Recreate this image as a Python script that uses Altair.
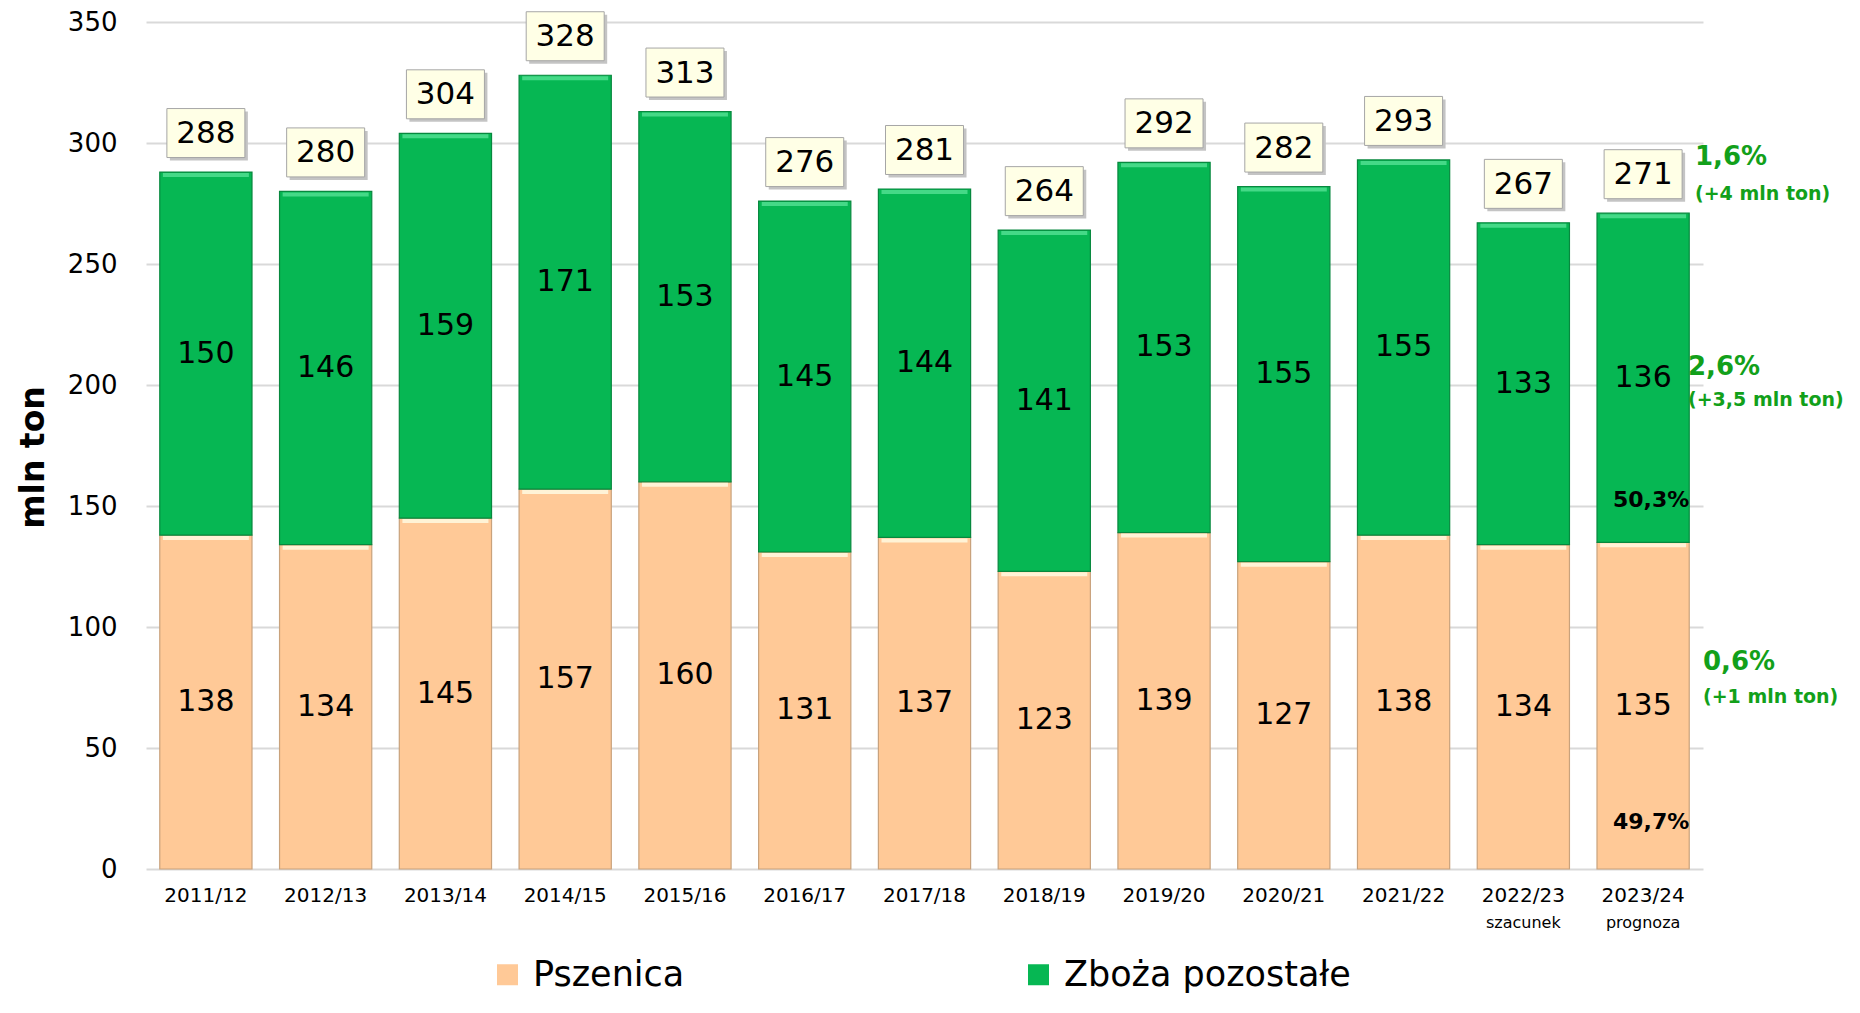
import altair as alt
import pandas as pd

# ---------------- data ----------------
years = ["2011/12", "2012/13", "2013/14", "2014/15", "2015/16", "2016/17", "2017/18",
         "2018/19", "2019/20", "2020/21", "2021/22", "2022/23", "2023/24"]
wheat = [138, 134, 145, 157, 160, 131, 137, 123, 139, 127, 138, 134, 135]
other = [150, 146, 159, 171, 153, 145, 144, 141, 153, 155, 155, 133, 136]
totals = [288, 280, 304, 328, 313, 276, 281, 264, 292, 282, 293, 267, 271]
notes = ["", "", "", "", "", "", "", "", "", "", "", "szacunek", "prognoza"]
series_names = ["Pszenica", "Zboża pozostałe"]
share_labels = ["49,7%", "50,3%"]
change_pct = ["1,6%", "2,6%", "0,6%"]
change_abs = ["(+4 mln ton)", "(+3,5 mln ton)", "(+1 mln ton)"]
y_ticks = [0, 50, 100, 150, 200, 250, 300, 350]

n = len(years)
long = pd.DataFrame({
    "year": years * 2,
    "series": [series_names[0]] * n + [series_names[1]] * n,
    "value": wheat + other,
    "ord": [0] * n + [1] * n,
})
tot = pd.DataFrame({"year": years, "total": totals, "note": notes})
last = pd.DataFrame({"year": [years[-1]], "wheat": [wheat[-1]], "zero": [0],
                     "s_low": [share_labels[0]], "s_high": [share_labels[1]]})

# ---------------- styling ----------------
W, H = 1557, 847
FONT = "DejaVu Sans"
WHEAT = "#FFC997"
GREEN = "#06B753"
ANN = "#12A01A"

xs = alt.Scale(paddingInner=0.23, paddingOuter=0.115)
ys = alt.Scale(domain=[0, 350], nice=False, zero=True)

x_axis = alt.Axis(labelFontSize=20, labelFont=FONT, labelColor="black",
                  labelPadding=16, ticks=False, domain=False, labelAngle=0, grid=False)
y_axis = alt.Axis(values=y_ticks, titleFontSize=33, titleFont=FONT,
                  titleFontWeight="bold", titleColor="black", titleAngle=-90,
                  titleX=-113, titleY=435, titleAlign="center",
                  titleBaseline="middle", labelFontSize=26, labelFont=FONT,
                  labelColor="black", labelPadding=29, ticks=False,
                  domain=False, grid=True, gridColor="#D9D9D9", gridWidth=2)


def X():
    return alt.X("year:N", sort=years, scale=xs, title=None, axis=x_axis)


def Y(field, **kw):
    return alt.Y(field, scale=ys, title="mln ton", axis=y_axis, **kw)


bars = alt.Chart(long).mark_bar(strokeWidth=1.2, opacity=1).encode(
    x=X(),
    y=Y("value:Q", stack="zero"),
    color=alt.Color("series:N", scale=alt.Scale(domain=series_names, range=[WHEAT, GREEN]),
                    legend=alt.Legend(title=None, orient="none", legendX=344, legendY=935,
                                      direction="horizontal", symbolType="square",
                                      symbolSize=441, symbolStrokeWidth=0,
                                      labelFontSize=35, labelFont=FONT,
                                      labelColor="black", labelLimit=600,
                                      labelOffset=8, columnPadding=336)),
    stroke=alt.Stroke("series:N", scale=alt.Scale(domain=series_names,
                                                  range=["#C9A27C", "#07883E"]),
                      legend=None),
    order=alt.Order("ord:Q", sort="ascending"),
)

bevel_w = alt.Chart(long).transform_filter("datum.ord == 0").mark_tick(
    color="#FFF3D6", thickness=4, size=86, yOffset=3, opacity=1).encode(
    x=X(), y=Y("value:Q"))
bevel_g = alt.Chart(tot).mark_tick(
    color="#45D987", thickness=4, size=86, yOffset=3, opacity=1).encode(
    x=X(), y=Y("total:Q"))

seg_text = alt.Chart(long).transform_stack(
    stack="value", as_=["y0", "y1"], groupby=["year"],
    sort=[alt.SortField("ord", order="ascending")]
).transform_calculate(mid="(datum.y0 + datum.y1) / 2").mark_text(
    fontSize=30, font=FONT, color="black", baseline="middle").encode(
    x=X(), y=Y("mid:Q"), text="value:Q")

BOX = "M-1,-0.628L1,-0.628L1,0.628L-1,0.628Z"
box_shadow = alt.Chart(tot).mark_point(
    shape=BOX, size=78 * 78, filled=True, color="#C4C4C4", opacity=1,
    xOffset=3, yOffset=-36).encode(x=X(), y=Y("total:Q"))
box = alt.Chart(tot).mark_point(
    shape=BOX, size=78 * 78, filled=True, fill="#FFFFE6", stroke="#A6A6A6",
    strokeWidth=1, opacity=1, yOffset=-39).encode(x=X(), y=Y("total:Q"))
box_text = alt.Chart(tot).mark_text(
    fontSize=31, font=FONT, color="black", baseline="middle", yOffset=-38).encode(
    x=X(), y=Y("total:Q"), text="total:Q")

note_text = alt.Chart(tot).mark_text(
    fontSize=16, font=FONT, color="black", baseline="middle").encode(
    x=X(), y=alt.value(H + 54), text="note:N")

share_hi = alt.Chart(last).mark_text(
    fontSize=22, font=FONT, fontWeight="bold", color="black", baseline="middle",
    xOffset=8, yOffset=-42).encode(x=X(), y=Y("wheat:Q"), text="s_high:N")
share_lo = alt.Chart(last).mark_text(
    fontSize=22, font=FONT, fontWeight="bold", color="black", baseline="middle",
    xOffset=8, yOffset=-47).encode(x=X(), y=Y("zero:Q"), text="s_low:N")


def ann(label, px, py, size):
    return alt.Chart(pd.DataFrame({"t": [label]})).mark_text(
        fontSize=size, font=FONT, fontWeight="bold", color=ANN, align="left",
        baseline="middle").encode(x=alt.value(px), y=alt.value(py), text="t:N")


anns = [
    ann(change_pct[0], 1549, 135, 26), ann(change_abs[0], 1549, 172, 19),
    ann(change_pct[1], 1542, 345, 26), ann(change_abs[1], 1542, 378, 19),
    ann(change_pct[2], 1557, 640, 26), ann(change_abs[2], 1557, 675, 19),
]

chart = alt.layer(
    bars, bevel_w, bevel_g, seg_text, box_shadow, box, box_text, note_text,
    share_hi, share_lo, *anns
).properties(
    width=W, height=H,
    padding={"left": 138, "top": 14, "right": 149, "bottom": 128},
    autosize=alt.AutoSizeParams(type="none"),
    background="white",
).configure_view(strokeWidth=0)

chart.save("out.html", embed_options={"renderer": "svg", "actions": False})
